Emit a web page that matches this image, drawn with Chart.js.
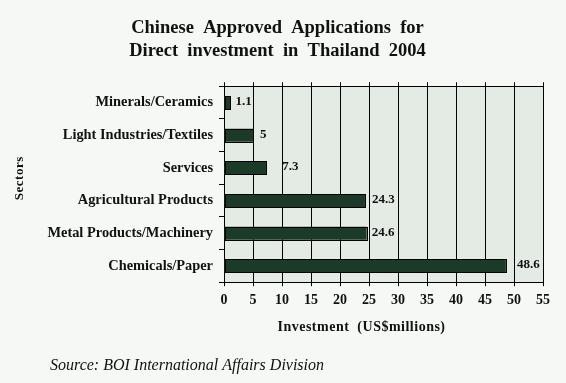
<!DOCTYPE html>
<html>
<head>
<meta charset="utf-8">
<script src="https://cdn.jsdelivr.net/npm/chart.js@4/dist/chart.umd.min.js"></script>
<style>
html,body{margin:0;padding:0;background:#f6f8f6;}
#wrap{width:566px;height:383px;position:relative;}
</style>
</head>
<body>
<div id="wrap"><canvas id="c" width="566" height="383"></canvas></div>
<script>
const categories = ["Minerals/Ceramics","Light Industries/Textiles","Services","Agricultural Products","Metal Products/Machinery","Chemicals/Paper"];
const values = [1.1, 5, 7.3, 24.3, 24.6, 48.6];
const valueLabels = ["1.1","5","7.3","24.3","24.6","48.6"];
const xTicks = [0,5,10,15,20,25,30,35,40,45,50,55];

const SERIF = "'Liberation Serif','Times New Roman',serif";

const bgPlugin = {
  id: 'plotBg',
  beforeDraw(chart){
    const {ctx, chartArea:a} = chart;
    ctx.save();
    ctx.fillStyle = '#f6f8f6';
    ctx.fillRect(0,0,chart.width,chart.height);
    ctx.fillStyle = '#e4ebe5';
    ctx.fillRect(a.left,a.top,a.right-a.left,a.bottom-a.top);
    ctx.restore();
  }
};

const labelPlugin = {
  id: 'valLabels',
  afterDatasetsDraw(chart, args, opts){
    const {ctx} = chart;
    const meta = chart.getDatasetMeta(0);
    ctx.save();
    // crisp black outlines around the bars drawn by Chart.js
    ctx.strokeStyle = '#000';
    ctx.lineWidth = 1;
    meta.data.forEach((bar) => {
      const p = bar.getProps(['x','y','base','height'], true);
      const x0 = Math.round(Math.min(p.base, p.x));
      const x1 = Math.round(Math.max(p.base, p.x));
      const y0 = Math.round(p.y - p.height/2);
      const y1 = Math.round(p.y + p.height/2);
      ctx.strokeRect(x0 + 0.5, y0 + 0.5, x1 - x0, y1 - y0);
    });
    ctx.fillStyle = '#111';
    ctx.textBaseline = 'middle';
    ctx.textAlign = 'left';
    ctx.font = "bold 13px " + SERIF;
    meta.data.forEach((bar, i) => {
      const off = (opts.offsets && opts.offsets[i]) || 4;
      ctx.fillText(valueLabels[i], bar.x + off, bar.y - 1);
    });
    ctx.restore();
  }
};

const textPlugin = {
  id: 'extraText',
  afterDraw(chart){
    const {ctx, chartArea:a} = chart;
    ctx.save();
    ctx.fillStyle = '#111';
    ctx.textBaseline = 'middle';
    ctx.textAlign = 'center';
    ctx.font = "bold 14px " + SERIF;
    if ('letterSpacing' in ctx) ctx.letterSpacing = '0.5px';
    ctx.fillText("Investment  (US$millions)", (a.left + a.right)/2 - 22, a.bottom + 45);
    // y axis title
    ctx.save();
    ctx.translate(20, (a.top + a.bottom)/2 - 6);
    ctx.rotate(-Math.PI/2);
    ctx.font = "bold 13px " + SERIF;
    ctx.fillText("Sectors", 0, 0);
    ctx.restore();
    if ('letterSpacing' in ctx) ctx.letterSpacing = '0px';
    ctx.textAlign = 'left';
    ctx.font = "italic 16px " + SERIF;
    ctx.fillText("Source: BOI International Affairs Division", 50, 366);
    ctx.restore();
  }
};

new Chart(document.getElementById('c'), {
  type: 'bar',
  data: {
    labels: categories,
    datasets: [{
      data: values,
      backgroundColor: '#1c3a28',
      borderWidth: 0,
      inflateAmount: 0,
      barPercentage: 0.8,
      categoryPercentage: 0.5
    }]
  },
  options: {
    indexAxis: 'y',
    responsive: false,
    animation: false,
    devicePixelRatio: 1,
    layout: { padding: { left: 12, right: 23, top: 0, bottom: 68 } },
    plugins: {
      legend: { display: false },
      tooltip: { enabled: false },
      title: {
        display: true,
        text: ["Chinese  Approved  Applications  for", "Direct  investment  in  Thailand  2004"],
        color: '#111',
        font: { family: SERIF, size: 18.5, weight: 'bold', lineHeight: 1.25 },
        padding: { top: 17, bottom: 19 }
      },
      valLabels: { offsets: [5, 7, 16, 7, 5, 11] }
    },
    scales: {
      x: {
        type: 'linear',
        position: 'bottom',
        min: 0, max: 55,
        afterBuildTicks(scale){ scale.ticks = xTicks.map(v => ({value: v})); },
        grid: { color: '#000', lineWidth: 1, tickLength: 4, drawTicks: true },
        border: { color: '#000', width: 1 },
        ticks: { color: '#111', font: { family: SERIF, size: 14, weight: 'bold' }, padding: 6, maxRotation: 0, autoSkip: false }
      },
      x2: {
        type: 'linear',
        position: 'top',
        min: 0, max: 55,
        afterBuildTicks(scale){ scale.ticks = xTicks.map(v => ({value: v})); },
        grid: { color: '#000', drawOnChartArea: false, tickLength: 4 },
        border: { color: '#000', width: 1 },
        ticks: { display: false }
      },
      y: {
        type: 'category',
        offset: true,
        afterFit(scale){ scale.width = 212; },
        grid: { offset: true, drawOnChartArea: false, color: '#000', tickLength: 5 },
        border: { color: '#000', width: 1 },
        ticks: { color: '#111', font: { family: SERIF, size: 14.4, weight: 'bold' }, padding: 6 }
      }
    }
  },
  plugins: [bgPlugin, labelPlugin, textPlugin]
});
</script>
</body>
</html>
